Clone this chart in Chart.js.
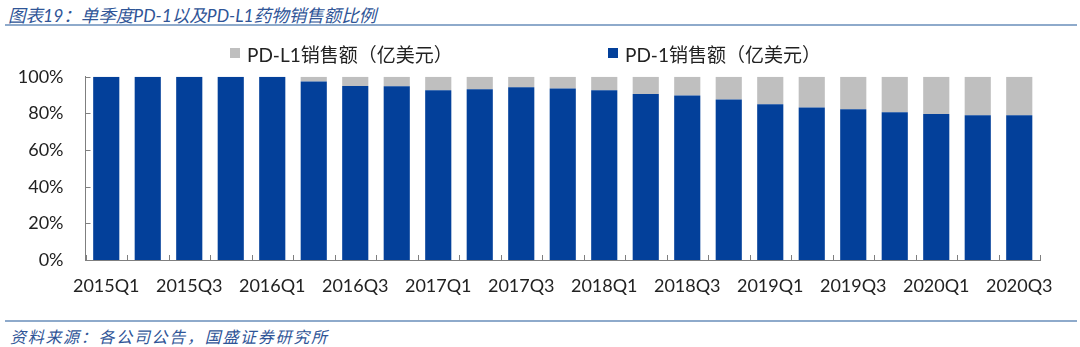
<!DOCTYPE html>
<html>
<head>
<meta charset="utf-8">
<script src="https://cdn.jsdelivr.net/npm/chart.js@4/dist/chart.umd.min.js"></script>
<style>
  body { margin: 0; background: #fff; }
  #page { position: relative; width: 1080px; height: 347px; overflow: hidden; font-family: Lato, "Noto Sans CJK SC", sans-serif; }
  .caption { position: absolute; font-style: italic; color: #2f5597; font-family: Lato, "Noto Sans CJK SC", sans-serif; white-space: nowrap; }
  #title { left: 8px; top: 2px; font-size: 17.5px; }
  #source { left: 10px; top: 324px; font-size: 16px; letter-spacing: 1.7px; }
  .rule { position: absolute; left: 5px; width: 1072px; background: #8eaacb; }
  #rule-top { top: 24px; height: 2px; }
  #rule-bottom { top: 320px; height: 2px; }
  #legend { position: absolute; top: 41px; left: 0; width: 1080px; height: 24px; font-size: 19px; color: #222; }
  .legend-item { position: absolute; top: 0; display: flex; align-items: center; height: 24px; white-space: nowrap; }
  .legend-item i { display: inline-block; width: 10px; height: 10px; margin-right: 7px; }
  #chart-wrap { position: absolute; left: 0; top: 44px; width: 1080px; height: 256px; }
</style>
</head>
<body>
<div id="page">
  <div id="title" class="caption">图表19：单季度PD-1以及PD-L1药物销售额比例</div>
  <div id="rule-top" class="rule"></div>
  <div id="chart-wrap"><canvas id="share-chart"></canvas></div>
  <div id="legend"></div>
  <div id="rule-bottom" class="rule"></div>
  <div id="source" class="caption">资料来源：各公司公告，国盛证券研究所</div>
</div>
<script>
const quarters = [
  "2015Q1", "2015Q2", "2015Q3", "2015Q4",
  "2016Q1", "2016Q2", "2016Q3", "2016Q4",
  "2017Q1", "2017Q2", "2017Q3", "2017Q4",
  "2018Q1", "2018Q2", "2018Q3", "2018Q4",
  "2019Q1", "2019Q2", "2019Q3", "2019Q4",
  "2020Q1", "2020Q2", "2020Q3",
];
// share of quarterly sales, percent
const pd1Share = [100, 100, 100, 100, 100, 97.5, 95, 94.8, 92.6, 93.2, 94.3, 93.6, 92.6, 90.6, 89.8, 87.6, 85, 83.2, 82.3, 80.7, 79.7, 79, 79];
const pdl1Share = [0, 0, 0, 0, 0, 2.5, 5, 5.2, 7.4, 6.8, 5.7, 6.4, 7.4, 9.4, 10.2, 12.4, 15, 16.8, 17.7, 19.3, 20.3, 21, 21];
const yTicks = [0, 20, 40, 60, 80, 100];

const BLUE = "#03409a";
const GREY = "#bfbfbf";
const AXIS = "#7f7f7f";

// legend sits above the plot, PD-L1 first
const legendItems = [
  { label: "PD-L1销售额（亿美元）", color: GREY, left: 230 },
  { label: "PD-1销售额（亿美元）", color: BLUE, left: 608 },
];
const legendEl = document.getElementById("legend");
legendItems.forEach((item) => {
  const div = document.createElement("div");
  div.className = "legend-item";
  div.style.left = item.left + "px";
  div.innerHTML = `<i style="background:${item.color}"></i><span>${item.label}</span>`;
  legendEl.appendChild(div);
});

// short tick marks pointing into the plot on both axes
const innerTicks = {
  id: "innerTicks",
  afterDraw(chart) {
    const { ctx, scales } = chart;
    const x = scales.x;
    const y = scales.y;
    ctx.save();
    ctx.strokeStyle = AXIS;
    ctx.lineWidth = 1;
    ctx.beginPath();
    for (let i = 0; i <= quarters.length; i++) {
      const px = Math.round(x.getPixelForValue(i - 0.5)) + 0.5;
      ctx.moveTo(px, y.bottom);
      ctx.lineTo(px, y.bottom - 5);
    }
    yTicks.forEach((v) => {
      const py = Math.round(y.getPixelForValue(v)) + 0.5;
      ctx.moveTo(x.left, py);
      ctx.lineTo(x.left + 5, py);
    });
    ctx.stroke();
    ctx.restore();
  },
};

new Chart(document.getElementById("share-chart"), {
  type: "bar",
  data: {
    labels: quarters,
    datasets: [
      {
        label: "PD-1销售额（亿美元）",
        data: pd1Share,
        backgroundColor: BLUE,
        barPercentage: 0.63,
        categoryPercentage: 1,
      },
      {
        label: "PD-L1销售额（亿美元）",
        data: pdl1Share,
        backgroundColor: GREY,
        barPercentage: 0.63,
        categoryPercentage: 1,
      },
    ],
  },
  options: {
    responsive: true,
    maintainAspectRatio: false,
    animation: false,
    layout: { padding: { top: 0, right: 40, left: 0, bottom: 0 } },
    plugins: {
      legend: { display: false },
      tooltip: { enabled: false },
    },
    scales: {
      x: {
        stacked: true,
        grid: { display: false, drawTicks: false },
        border: { display: true, color: AXIS, width: 1 },
        ticks: {
          autoSkip: false,
          maxRotation: 0,
          padding: 15,
          color: "#222",
          font: { family: "Lato", size: 18 },
          callback: (val, idx) => (idx % 2 === 0 ? quarters[idx] : ""),
        },
        afterFit: (s) => { s.height = 40; },
      },
      y: {
        stacked: true,
        min: 0,
        max: 100,
        grid: { display: false, drawTicks: false },
        border: { display: true, color: AXIS, width: 1 },
        afterBuildTicks: (s) => { s.ticks = yTicks.map((v) => ({ value: v })); },
        ticks: {
          padding: 22,
          color: "#222",
          font: { family: "Lato", size: 18 },
          callback: (v) => v + "%",
        },
        afterFit: (s) => { s.width = 85.5; },
      },
    },
  },
  plugins: [innerTicks],
});
</script>
</body>
</html>
